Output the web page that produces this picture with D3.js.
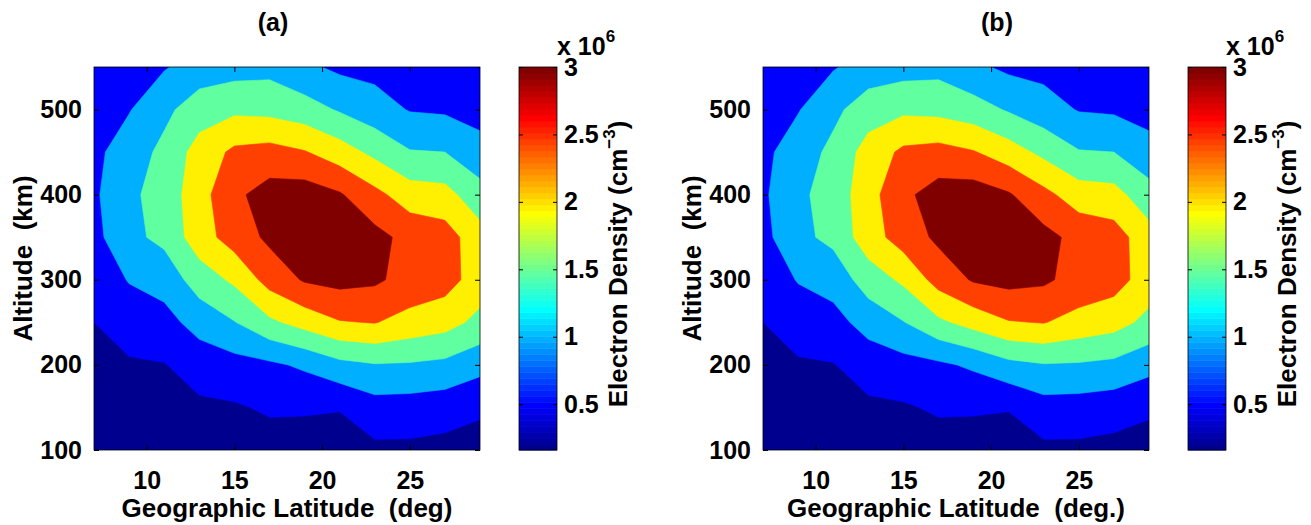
<!DOCTYPE html>
<html>
<head>
<meta charset="utf-8">
<script src="https://cdn.jsdelivr.net/npm/d3@7"></script>
<style>
  body { margin: 0; background: #ffffff; }
  svg { display: block; font-family: "Liberation Sans", Arial, Helvetica, sans-serif; font-weight: bold; }
</style>
</head>
<body>
<svg id="chart" width="1311" height="525"></svg>
<script>
// ==============================
// DATA
// ==============================

const latitudes = [7, 9, 11, 13, 15, 17, 19, 21, 23, 25, 27, 29];
const altitudes = [100, 150, 200, 250, 300, 350, 400, 450, 500, 550];

// Electron density (x 10^6 cm^-3), one row per altitude, one column per latitude
const densityA = [
  [0.25, 0.25, 0.27, 0.30, 0.32, 0.30, 0.30, 0.32, 0.40, 0.40, 0.35, 0.30],
  [0.33, 0.35, 0.38, 0.42, 0.45, 0.56, 0.55, 0.52, 0.80, 0.78, 0.72, 0.58],
  [0.42, 0.45, 0.48, 0.70, 0.82, 0.91, 1.08, 1.36, 1.47, 1.45, 1.38, 1.16],
  [0.50, 0.70, 0.82, 1.20, 1.48, 1.90, 2.19, 2.47, 2.52, 2.33, 2.19, 1.86],
  [0.68, 1.03, 1.20, 1.73, 2.09, 2.69, 3.05, 3.15, 3.08, 2.82, 2.70, 2.26],
  [0.85, 1.38, 1.62, 2.28, 2.72, 3.10, 3.40, 3.25, 3.15, 2.85, 2.72, 2.20],
  [0.92, 1.40, 1.70, 2.30, 2.90, 3.20, 3.25, 3.05, 2.64, 2.24, 2.17, 1.69],
  [0.88, 1.25, 1.62, 2.20, 2.60, 2.68, 2.53, 2.23, 1.87, 1.53, 1.50, 1.18],
  [0.78, 0.97, 1.38, 1.76, 1.90, 1.85, 1.71, 1.45, 1.21, 0.97, 0.93, 0.82],
  [0.65, 0.75, 0.96, 1.22, 1.30, 1.35, 1.10, 0.90, 0.85, 0.68, 0.62, 0.48]
];

const densityB = [
  [0.25, 0.25, 0.27, 0.30, 0.32, 0.30, 0.30, 0.32, 0.40, 0.40, 0.35, 0.30],
  [0.33, 0.35, 0.38, 0.42, 0.45, 0.56, 0.55, 0.52, 0.80, 0.78, 0.72, 0.58],
  [0.42, 0.45, 0.48, 0.70, 0.82, 0.91, 1.08, 1.36, 1.47, 1.45, 1.38, 1.16],
  [0.50, 0.70, 0.82, 1.20, 1.48, 1.90, 2.19, 2.47, 2.52, 2.33, 2.19, 1.86],
  [0.68, 1.03, 1.20, 1.73, 2.09, 2.69, 3.05, 3.15, 3.08, 2.82, 2.70, 2.26],
  [0.85, 1.38, 1.62, 2.28, 2.72, 3.10, 3.40, 3.25, 3.15, 2.85, 2.72, 2.20],
  [0.92, 1.40, 1.70, 2.30, 2.90, 3.20, 3.25, 3.05, 2.64, 2.24, 2.17, 1.69],
  [0.88, 1.25, 1.62, 2.20, 2.60, 2.68, 2.53, 2.23, 1.87, 1.53, 1.50, 1.18],
  [0.78, 0.97, 1.38, 1.76, 1.90, 1.85, 1.71, 1.45, 1.21, 0.97, 0.93, 0.82],
  [0.65, 0.75, 0.96, 1.22, 1.30, 1.35, 1.10, 0.90, 0.85, 0.68, 0.62, 0.48]
];

const contourLevels = [0.5, 1.0, 1.5, 2.0, 2.5, 3.0];
const colorLimits = [0.16, 3.0];

const latTicks = [10, 15, 20, 25];
const altTicks = [100, 200, 300, 400, 500];
const colorbarTicks = [0.5, 1, 1.5, 2, 2.5, 3];

const panelTitles = ["(a)", "(b)"];
const xAxisLabels = ["Geographic Latitude  (deg)", "Geographic Latitude  (deg.)"];
const yAxisLabel = "Altitude  (km)";

// ==============================
// LAYOUT
// ==============================

const panels = [
  { data: densityA, title: panelTitles[0], xLabel: xAxisLabels[0], left: 94, titleX: 273 },
  { data: densityB, title: panelTitles[1], xLabel: xAxisLabels[1], left: 763, titleX: 997 }
];

const plotTop = 67;
const plotBottom = 450;
const plotWidth = 386;
const cbarGap = 39;      // plot right edge -> colorbar left
const cbarWidth = 38;
const tickFont = 25;
const labelFont = 26;

// ==============================
// JET COLORMAP (matlab style)
// ==============================

function jetColormap(m) {
  const n = Math.ceil(m / 4);
  const u = [];
  for (let i = 1; i <= n; i++) u.push(i / n);
  for (let i = 1; i < n; i++) u.push(1);
  for (let i = n; i >= 1; i--) u.push(i / n);

  const g0 = Math.ceil(n / 2) - (m % 4 === 1 ? 1 : 0);
  const map = d3.range(m).map(() => [0, 0, 0]);

  u.forEach((v, i) => {
    const g = g0 + i + 1;
    const r = g + n;
    const b = g - n;
    if (r >= 1 && r <= m) map[r - 1][0] = v;
    if (g >= 1 && g <= m) map[g - 1][1] = v;
    if (b >= 1 && b <= m) map[b - 1][2] = v;
  });

  return map.map(c => d3.rgb(c[0] * 255, c[1] * 255, c[2] * 255).formatHex());
}

const jet = jetColormap(64);

function levelColor(value) {
  const [cmin, cmax] = colorLimits;
  const idx = Math.floor((value - cmin) / (cmax - cmin) * (jet.length - 1));
  return jet[Math.max(0, Math.min(jet.length - 1, idx))];
}

// ==============================
// DRAW ONE PANEL
// ==============================

const svg = d3.select("#chart");

function drawPanel(panel, index) {
  const left = panel.left;
  const right = left + plotWidth;

  const x = d3.scaleLinear()
    .domain([latitudes[0], latitudes[latitudes.length - 1]])
    .range([left, right]);

  const y = d3.scaleLinear()
    .domain([altitudes[0], altitudes[altitudes.length - 1]])
    .range([plotBottom, plotTop]);

  // grid index (d3.contours puts sample i at i + 0.5) -> data coordinates
  const colToLat = d3.scaleLinear()
    .domain([0.5, latitudes.length - 0.5])
    .range([latitudes[0], latitudes[latitudes.length - 1]]);

  const rowToAlt = d3.scaleLinear()
    .domain([0.5, altitudes.length - 0.5])
    .range([altitudes[0], altitudes[altitudes.length - 1]]);

  const projection = d3.geoTransform({
    point(cx, cy) {
      this.stream.point(x(colToLat(cx)), y(rowToAlt(cy)));
    }
  });

  const path = d3.geoPath(projection);

  const contours = d3.contours()
    .size([latitudes.length, altitudes.length])
    .thresholds(contourLevels)(panel.data.flat());

  const g = svg.append("g").attr("class", "panel-" + index);

  // Clip to axes box
  g.append("clipPath")
    .attr("id", "clip-" + index)
    .append("rect")
    .attr("x", left)
    .attr("y", plotTop)
    .attr("width", plotWidth)
    .attr("height", plotBottom - plotTop);

  const fills = g.append("g").attr("clip-path", `url(#clip-${index})`);

  // Lowest band
  fills.append("rect")
    .attr("x", left)
    .attr("y", plotTop)
    .attr("width", plotWidth)
    .attr("height", plotBottom - plotTop)
    .attr("fill", levelColor(colorLimits[0]));

  fills.selectAll("path")
    .data(contours)
    .enter()
    .append("path")
    .attr("d", path)
    .attr("fill", d => levelColor(d.value))
    .attr("stroke", d => levelColor(d.value))
    .attr("stroke-width", 0.6);

  // Axes (ticks point inward, box on)
  g.append("g")
    .attr("transform", `translate(0,${plotBottom})`)
    .call(d3.axisBottom(x).tickValues(latTicks).tickSizeInner(-5).tickSizeOuter(0).tickPadding(21));

  g.append("g")
    .attr("transform", `translate(0,${plotTop})`)
    .call(d3.axisTop(x).tickValues(latTicks).tickSizeInner(-5).tickSizeOuter(0).tickFormat(""));

  g.append("g")
    .attr("transform", `translate(${left},0)`)
    .call(d3.axisLeft(y).tickValues(altTicks).tickSizeInner(-5).tickSizeOuter(0).tickPadding(12));

  g.append("g")
    .attr("transform", `translate(${right},0)`)
    .call(d3.axisRight(y).tickValues(altTicks).tickSizeInner(-5).tickSizeOuter(0).tickFormat(""));

  g.selectAll(".domain").remove();
  g.selectAll(".tick line").attr("stroke", "#000").attr("stroke-width", 1);
  g.selectAll(".tick text")
    .attr("font-family", null)
    .attr("font-size", tickFont)
    .attr("fill", "#000");

  g.append("rect")
    .attr("x", left)
    .attr("y", plotTop)
    .attr("width", plotWidth)
    .attr("height", plotBottom - plotTop)
    .attr("fill", "none")
    .attr("stroke", "#000")
    .attr("stroke-width", 0.8);

  // Labels
  g.append("text")
    .attr("x", panel.titleX)
    .attr("y", 31)
    .attr("text-anchor", "middle")
    .attr("font-size", tickFont)
    .text(panel.title);

  g.append("text")
    .attr("x", (left + right) / 2)
    .attr("y", 517)
    .attr("text-anchor", "middle")
    .attr("font-size", labelFont)
    .style("white-space", "pre")
    .text(panel.xLabel);

  g.append("text")
    .attr("transform", `translate(${left - 62},${(plotTop + plotBottom) / 2}) rotate(-90)`)
    .attr("text-anchor", "middle")
    .attr("font-size", labelFont)
    .style("white-space", "pre")
    .text(yAxisLabel);

  drawColorbar(g, right + cbarGap, index);
}

// ==============================
// COLORBAR
// ==============================

function drawColorbar(g, cbLeft, index) {
  const cbRight = cbLeft + cbarWidth;

  const c = d3.scaleLinear()
    .domain(colorLimits)
    .range([plotBottom, plotTop]);

  const step = (colorLimits[1] - colorLimits[0]) / jet.length;

  g.append("g")
    .selectAll("rect")
    .data(jet)
    .enter()
    .append("rect")
    .attr("x", cbLeft)
    .attr("y", (d, i) => c(colorLimits[0] + (i + 1) * step))
    .attr("width", cbarWidth)
    .attr("height", (d, i) => c(colorLimits[0] + i * step) - c(colorLimits[0] + (i + 1) * step) + 0.5)
    .attr("fill", d => d);

  const cbAxis = g.append("g")
    .attr("transform", `translate(${cbRight},0)`)
    .call(d3.axisRight(c).tickValues(colorbarTicks).tickSizeInner(-4).tickSizeOuter(0).tickPadding(7).tickFormat(d3.format("")));

  g.append("g")
    .attr("transform", `translate(${cbLeft},0)`)
    .call(d3.axisLeft(c).tickValues(colorbarTicks).tickSizeInner(-4).tickSizeOuter(0).tickFormat(""));

  g.selectAll(".domain").remove();
  g.selectAll(".tick line").attr("stroke", "#000");
  cbAxis.selectAll(".tick text")
    .attr("font-family", null)
    .attr("font-size", tickFont)
    .attr("fill", "#000");

  g.append("rect")
    .attr("x", cbLeft)
    .attr("y", plotTop)
    .attr("width", cbarWidth)
    .attr("height", plotBottom - plotTop)
    .attr("fill", "none")
    .attr("stroke", "#000")
    .attr("stroke-width", 0.8);

  // exponent
  const expo = g.append("text")
    .attr("x", cbRight)
    .attr("y", 55)
    .attr("font-size", tickFont);
  expo.append("tspan").style("white-space", "pre").text("x 10");
  expo.append("tspan").attr("dy", -13).attr("font-size", 17).text("6");

  // colorbar label
  const label = g.append("text")
    .attr("transform", `translate(${cbRight + 70},264) rotate(-90)`)
    .attr("text-anchor", "middle")
    .attr("font-size", labelFont);
  label.append("tspan").text("Electron Density (cm");
  label.append("tspan").attr("dy", -12).attr("font-size", 17).text("\u22123");
  label.append("tspan").attr("dy", 12).text(")");
}

panels.forEach(drawPanel);
</script>
</body>
</html>
